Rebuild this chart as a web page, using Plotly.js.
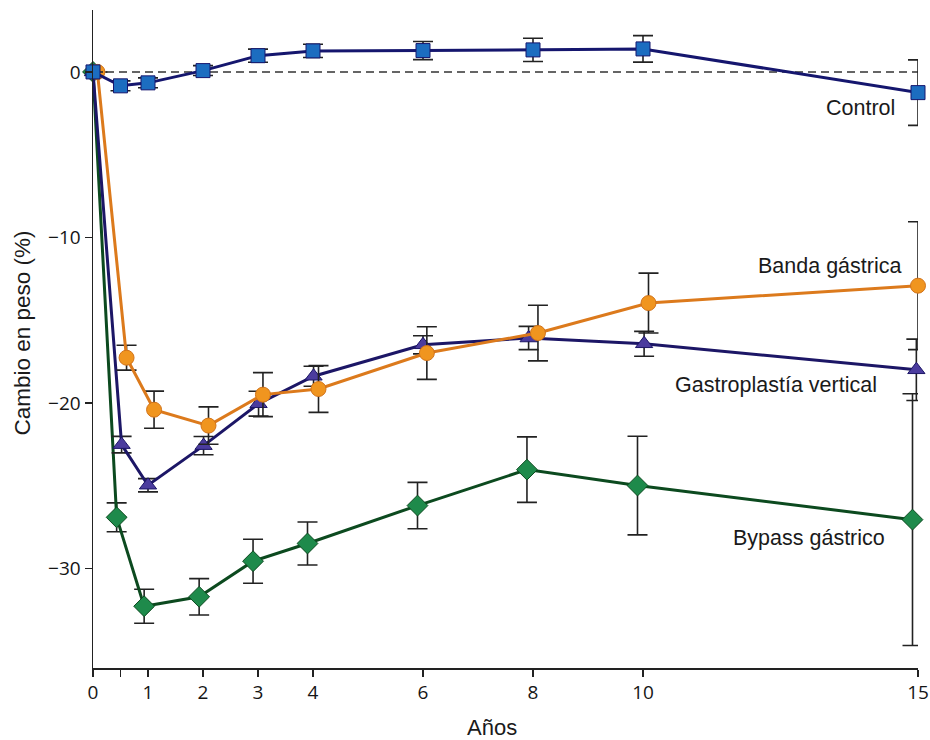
<!DOCTYPE html>
<html>
<head>
<meta charset="utf-8">
<script src="https://cdn.plot.ly/plotly-3.0.1.min.js"></script>
<style>
html,body{margin:0;padding:0;background:#fff;}
#chart{width:930px;height:740px;}
</style>
</head>
<body>
<div id="chart"></div>
<script>
// ---- Data ----
var controlX = [0, 0.5, 1, 2, 3, 4, 6, 8, 10, 15];
var controlY = [0, -0.84, -0.66, 0.08, 0.98, 1.27, 1.29, 1.33, 1.39, -1.25];
var controlErr = [0, 0.3, 0.3, 0.3, 0.4, 0.4, 0.55, 0.7, 0.8, 1.98];

var bandaX = [0.08, 0.61, 1.11, 2.1, 3.09, 4.1, 6.07, 8.09, 10.1, 15];
var bandaY = [0, -17.26, -20.4, -21.36, -19.49, -19.15, -16.98, -15.77, -13.96, -12.91];
var bandaErr = [0, 0.75, 1.12, 1.13, 1.33, 1.41, 1.59, 1.68, 1.81, 3.86];

var gastroX = [0, 0.52, 1.0, 2.01, 3.01, 4.01, 6.0, 7.92, 10.02, 14.97];
var gastroY = [0, -22.51, -24.96, -22.57, -20.04, -18.38, -16.48, -16.07, -16.42, -17.99];
var gastroErr = [0, 0.5, 0.4, 0.55, 0.75, 0.6, 0.55, 0.7, 0.75, 1.85];

var bypassX = [0, 0.43, 0.93, 1.93, 2.91, 3.9, 5.9, 7.89, 9.9, 14.9];
var bypassY = [0, -26.9, -32.27, -31.7, -29.55, -28.48, -26.19, -24.02, -24.98, -27.04];
var bypassErr = [0, 0.87, 1.03, 1.1, 1.33, 1.3, 1.4, 1.98, 2.98, 7.6];

var seriesNames = ["Control", "Banda gástrica", "Gastroplastía vertical", "Bypass gástrico"];
var labelX = [13.95, 13.39, 12.42, 13.02];
var labelY = [-2.17, -11.75, -18.89, -28.12];

var xTickVals = [0, 0.5, 1, 2, 3, 4, 6, 8, 10, 15];
var xTickText = ["0", "", "1", "2", "3", "4", "6", "8", "10", "15"];
var yTickVals = [0, -10, -20, -30];
var yTickText = ["0", "\u221210", "\u221220", "\u221230"];

var xTitle = "Años";
var yTitle = "Cambio en peso (%)";

// ---- Traces ----
function errObj(arr) {
  return {type: "data", array: arr, visible: true, color: "#222", thickness: 1.6, width: 10};
}
var traces = [
  {x: bypassX, y: bypassY, error_y: errObj(bypassErr), mode: "lines+markers", name: seriesNames[3],
   line: {color: "#0c4a1f", width: 3},
   marker: {symbol: "diamond", size: 16, color: "#1e8a4b", line: {color: "#0c4a1f", width: 1}}, cliponaxis: false},
  {x: gastroX, y: gastroY, error_y: errObj(gastroErr), mode: "lines+markers", name: seriesNames[2],
   line: {color: "#1c1666", width: 3},
   marker: {symbol: "triangle-up", size: 15, color: "#4b3c9e", line: {color: "#1c1666", width: 1}}, cliponaxis: false},
  {x: bandaX, y: bandaY, error_y: errObj(bandaErr), mode: "lines+markers", name: seriesNames[1],
   line: {color: "#dc7a1c", width: 3},
   marker: {symbol: "circle", size: 15, color: "#f0951f", line: {color: "#d2731a", width: 1}}, cliponaxis: false},
  {x: controlX, y: controlY, error_y: errObj(controlErr), mode: "lines+markers", name: seriesNames[0],
   line: {color: "#15166e", width: 3},
   marker: {symbol: "square", size: 14, color: "#1c6dc0", line: {color: "#15166e", width: 1}}, cliponaxis: false}
];

var annotations = [];
for (var i = 0; i < seriesNames.length; i++) {
  annotations.push({x: labelX[i], y: labelY[i], xref: "x", yref: "y", text: seriesNames[i],
    showarrow: false, xanchor: "center", yanchor: "middle",
    font: {family: "Liberation Sans, Arial, sans-serif", size: 21.5, color: "#1a1a1a"}});
}
annotations.push({x: 0.4836, y: -0.091, xref: "paper", yref: "paper", text: xTitle, showarrow: false,
  xanchor: "center", yanchor: "middle", font: {family: "Liberation Sans, Arial, sans-serif", size: 22, color: "#1a1a1a"}});
annotations.push({x: -0.0855, y: 0.509, xref: "paper", yref: "paper", text: yTitle, showarrow: false, textangle: -90,
  xanchor: "center", yanchor: "middle", font: {family: "Liberation Sans, Arial, sans-serif", size: 22.5, color: "#1a1a1a"}});

var tickFont = {family: "Open Sans, Noto Sans, sans-serif", size: 19, color: "#151515"};
var layout = {
  width: 930, height: 740,
  margin: {l: 93, r: 12, t: 10, b: 72},
  paper_bgcolor: "#ffffff", plot_bgcolor: "#ffffff",
  showlegend: false,
  xaxis: {range: [0, 15], showgrid: false, zeroline: false, showline: true, linecolor: "#222", linewidth: 1.5,
    ticks: "outside", ticklen: 7, tickwidth: 1.3, tickcolor: "#222",
    tickmode: "array", tickvals: xTickVals, ticktext: xTickText, tickfont: tickFont},
  yaxis: {range: [-36, 3.74], showgrid: false, zeroline: false, showline: true, linecolor: "#222", linewidth: 1.5,
    ticks: "outside", ticklen: 7, tickwidth: 1.3, tickcolor: "#222",
    tickmode: "array", tickvals: yTickVals, ticktext: yTickText, tickfont: tickFont},
  shapes: [{type: "line", xref: "x", yref: "y", x0: 0, x1: 15, y0: 0, y1: 0, layer: "below",
    line: {color: "#333", width: 1.5, dash: "8px,5px"}}],
  annotations: annotations
};

Plotly.newPlot("chart", traces, layout, {displayModeBar: false, staticPlot: true});
</script>
</body>
</html>
